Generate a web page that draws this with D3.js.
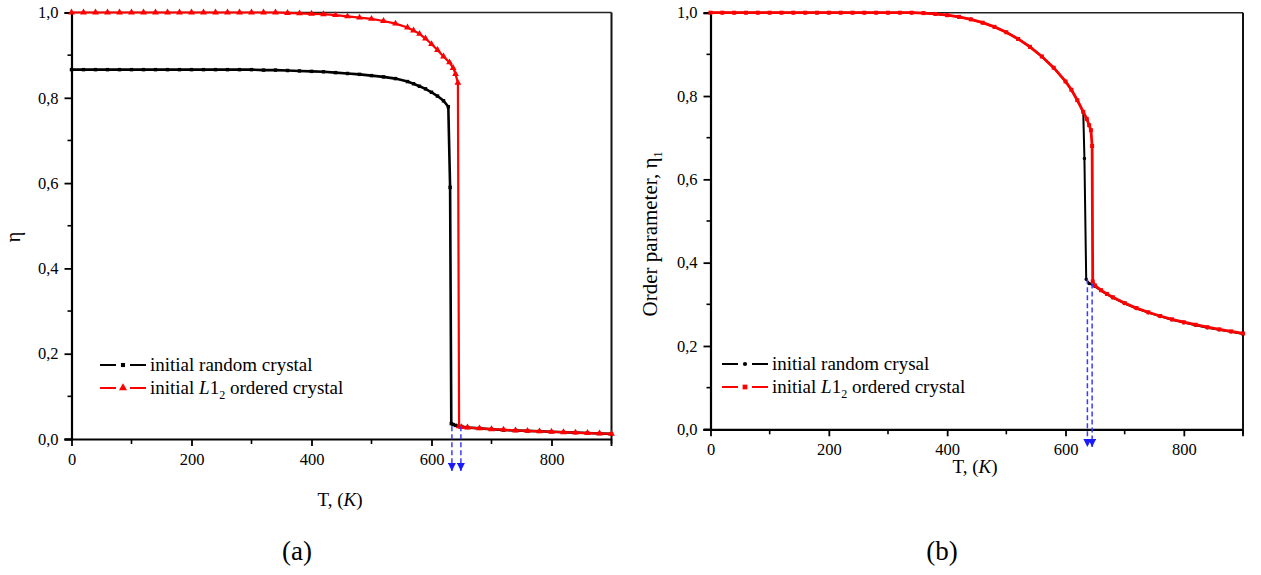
<!DOCTYPE html>
<html><head><meta charset="utf-8">
<script src="https://d3js.org/d3.v7.min.js"></script>
<style>body{margin:0;background:#fff}svg{display:block}text{font-family:"Liberation Serif","Times New Roman",serif !important;fill:#000}</style>
</head><body><svg id="c" width="1261" height="575"></svg>
<script>
// ---- data ----
const xTicks = [0,200,400,600,800];
const yTicks = [0,0.2,0.4,0.6,0.8,1.0];
// panel (a)
const aRandomT = [0,20,40,60,80,100,120,140,160,180,200,220,240,260,280,300,320,340,360,380,400,420,440,460,480,500,520,540,560,570,580,590,600,610,620,628,631,633,636,640,650,660,680,700,720,740,760,780,800,820,840,860,880,900];
const aRandomEta = [0.866,0.866,0.866,0.866,0.866,0.866,0.866,0.866,0.866,0.866,0.866,0.866,0.866,0.866,0.866,0.866,0.865,0.865,0.864,0.863,0.862,0.861,0.859,0.857,0.855,0.852,0.849,0.845,0.838,0.833,0.827,0.821,0.813,0.804,0.793,0.779,0.59,0.036,0.034,0.032,0.029,0.027,0.025,0.023,0.021,0.020,0.019,0.018,0.017,0.016,0.015,0.014,0.013,0.012];
const aOrderedT = [0,20,40,60,80,100,120,140,160,180,200,220,240,260,280,300,320,340,360,380,400,420,440,460,480,500,520,540,560,570,580,590,600,610,620,630,636,640,644,646,650,660,680,700,720,740,760,780,800,820,840,860,880,900];
const aOrderedEta = [1,1,1,1,1,1,1,1,1,1,1,1,1,1,1,1,1,1,0.999,0.998,0.997,0.996,0.994,0.991,0.988,0.985,0.980,0.974,0.965,0.958,0.950,0.939,0.926,0.912,0.897,0.883,0.870,0.856,0.835,0.030,0.028,0.027,0.025,0.023,0.022,0.020,0.019,0.018,0.017,0.016,0.015,0.014,0.013,0.012];
const aArrowsT = [634,649];
// panel (b)
const bRandomT = [0,20,40,60,80,100,120,140,160,180,200,220,240,260,280,300,320,340,360,380,400,420,440,460,480,500,520,540,560,580,600,610,620,630,632,635,640,650,660,670,680,700,720,740,760,780,800,820,840,860,880,900];
const bRandomEta = [1,1,1,1,1,1,1,1,1,1,1,1,1,1,1,1,1,1,0.999,0.997,0.994,0.990,0.984,0.976,0.966,0.953,0.937,0.918,0.895,0.868,0.835,0.815,0.790,0.762,0.65,0.36,0.350,0.343,0.333,0.324,0.316,0.302,0.290,0.280,0.271,0.263,0.256,0.250,0.244,0.239,0.234,0.229];
const bOrderedT = [0,20,40,60,80,100,120,140,160,180,200,220,240,260,280,300,320,340,360,380,400,420,440,460,480,500,520,540,560,580,600,610,620,630,636,640,643,645,646,650,660,670,680,700,720,740,760,780,800,820,840,860,880,900];
const bOrderedEta = [1,1,1,1,1,1,1,1,1,1,1,1,1,1,1,1,1,1,0.999,0.997,0.994,0.990,0.984,0.976,0.966,0.953,0.937,0.918,0.895,0.868,0.835,0.815,0.790,0.762,0.745,0.730,0.718,0.68,0.355,0.345,0.334,0.325,0.317,0.303,0.291,0.281,0.272,0.264,0.257,0.251,0.245,0.240,0.235,0.230];
const bArrowsT = [637,645];
const fmt = d => d3.format(".1f")(d).replace(".", ",");
const SERIF = '"Liberation Serif","Times New Roman",serif';

const svg = d3.select("#c");
const defs = svg.append("defs");
defs.append("marker").attr("id","ah").attr("viewBox","0 0 10 10").attr("refX",10).attr("refY",5)
  .attr("markerWidth",11).attr("markerHeight",8).attr("markerUnits","userSpaceOnUse").attr("orient","auto")
  .append("path").attr("d","M0,0 L10,5 L0,10 Z").attr("fill","#1a1aff");

function panel(cfg){
  const x = d3.scaleLinear().domain([0,900]).range([cfg.x0,cfg.x1]);
  const y = d3.scaleLinear().domain([0,1]).range([cfg.y0,cfg.y1]);
  const g = svg.append("g");
  g.append("line").attr("x1",cfg.x0).attr("x2",cfg.x1).attr("y1",cfg.y1).attr("y2",cfg.y1).attr("stroke","#222").attr("stroke-width",1.5);
  g.append("line").attr("x1",cfg.x1).attr("x2",cfg.x1).attr("y1",cfg.y1).attr("y2",cfg.y0).attr("stroke","#111").attr("stroke-width",2);
  const minorX = d3.range(100,901,200);
  const minorY = d3.range(0.1,1,0.2);
  g.selectAll(".mx").data(minorX).join("line").attr("x1",d=>x(d)).attr("x2",d=>x(d)).attr("y1",cfg.y0).attr("y2",cfg.y0+5).attr("stroke","#000").attr("stroke-width",1.6);
  g.selectAll(".my").data(minorY).join("line").attr("y1",d=>y(d)).attr("y2",d=>y(d)).attr("x1",cfg.x0).attr("x2",cfg.x0-4).attr("stroke","#000").attr("stroke-width",1.6);
  const xa = g.append("g").attr("transform",`translate(0,${cfg.y0})`).call(d3.axisBottom(x).tickValues(xTicks).tickSizeOuter(0).tickSize(7).tickPadding(7).tickFormat(d3.format("d")));
  const ya = g.append("g").attr("transform",`translate(${cfg.x0},0)`).call(d3.axisLeft(y).tickValues(yTicks).tickSizeOuter(0).tickSize(7).tickPadding(6).tickFormat(fmt));
  [xa,ya].forEach(a=>{a.attr("font-family",null).attr("font-size",null);a.select(".domain").attr("stroke-width",2.2).attr("stroke","#000");a.selectAll(".tick line").attr("stroke-width",1.8);a.selectAll("text").style("font-size","16.5px").style("font-family",SERIF);});
  g.append("line").attr("x1",x(900)).attr("x2",x(900)).attr("y1",cfg.y0).attr("y2",cfg.y0+7).attr("stroke","#000").attr("stroke-width",1.8);
  xa.select(".domain").attr("d",`M${cfg.x0-7},0.5H${cfg.x1}`);

  const line = d3.line().x(d=>x(d[0])).y(d=>y(d[1]));
  cfg.series.forEach(s=>{
    const pts = s.T.map((t,i)=>[t,s.v[i]]);
    g.append("path").datum(pts).attr("d",line).attr("fill","none").attr("stroke",s.color).attr("stroke-width",s.lw);
    const sym = d3.symbol().type(s.sym).size(s.size);
    g.selectAll(null).data(pts).join("path").attr("d",sym).attr("transform",d=>`translate(${x(d[0])},${y(d[1])})`).attr("fill",s.color);
  });
  cfg.arrows.forEach((t,i)=>{
    g.append("line").attr("x1",x(t)).attr("x2",x(t)).attr("y1",y(cfg.arrowFrom[i])).attr("y2",cfg.arrowTo)
      .attr("stroke","#3a3aff").attr("stroke-width",1.5).attr("stroke-dasharray","5,3").attr("marker-end","url(#ah)");
  });
  const xl = g.append("text").attr("x",cfg.xlab[0]).attr("y",cfg.xlab[1]).attr("text-anchor","middle").attr("font-size",19);
  xl.append("tspan").text("T, (");
  xl.append("tspan").attr("font-style","italic").text("K");
  xl.append("tspan").text(")");
  const yl = g.append("text").attr("transform",`translate(${cfg.ylab[0]},${cfg.ylab[1]}) rotate(-90)`).attr("text-anchor","middle").attr("font-size",cfg.yfs);
  yl.append("tspan").text(cfg.ytext);
  if(cfg.ysub){ yl.append("tspan").attr("font-size",12).attr("dy",5).text(cfg.ysub); }
  g.append("text").attr("x",cfg.plab[0]).attr("y",cfg.plab[1]).attr("text-anchor","middle").attr("font-size",27).text(cfg.ptext);
  cfg.series.forEach((s,i)=>{
    const ly = cfg.leg[1] + i*23;
    const lx = cfg.leg[0];
    g.append("line").attr("x1",lx).attr("x2",lx+16).attr("y1",ly).attr("y2",ly).attr("stroke",s.color).attr("stroke-width",2);
    g.append("line").attr("x1",lx+30).attr("x2",lx+46).attr("y1",ly).attr("y2",ly).attr("stroke",s.color).attr("stroke-width",2);
    g.append("path").attr("d",d3.symbol().type(s.sym).size(s.size*1.4)).attr("transform",`translate(${lx+23},${ly})`).attr("fill",s.color);
    const t = g.append("text").attr("x",lx+50).attr("y",ly+6).attr("font-size",19);
    if(s.label2){
      t.append("tspan").text("initial ");
      t.append("tspan").attr("font-style","italic").text("L");
      t.append("tspan").text("1");
      t.append("tspan").attr("font-size",12).attr("dy",5).text("2");
      t.append("tspan").attr("dy",-5).text(" ordered crystal");
    } else t.text(s.label);
  });
}

panel({x0:71.5,x1:611.5,y0:439,y1:12.5,
  series:[
    {T:aRandomT,v:aRandomEta,color:"#000",sym:d3.symbolSquare,size:12,lw:2.6,label:"initial random crystal"},
    {T:aOrderedT,v:aOrderedEta,color:"#f00",sym:d3.symbolTriangle,size:20,lw:2.2,label2:true}
  ],
  arrows:aArrowsT,arrowFrom:[0.03,0.03],arrowTo:471,
  xlab:[340,506],ylab:[20,237],ytext:"η",yfs:20,plab:[297,560],ptext:"(a)",leg:[100,365]});
panel({x0:710.5,x1:1243,y0:429.3,y1:12.7,
  series:[
    {T:bRandomT,v:bRandomEta,color:"#000",sym:d3.symbolCircle,size:10,lw:2,label:"initial random crysal"},
    {T:bOrderedT,v:bOrderedEta,color:"#f00",sym:d3.symbolSquare,size:16,lw:2.8,label2:true}
  ],
  arrows:bArrowsT,arrowFrom:[0.36,0.35],arrowTo:447,
  xlab:[975,473],ylab:[657,234],ytext:"Order parameter, η",yfs:21,ysub:"1",plab:[942,560],ptext:"(b)",leg:[722,364]});
</script></body></html>
